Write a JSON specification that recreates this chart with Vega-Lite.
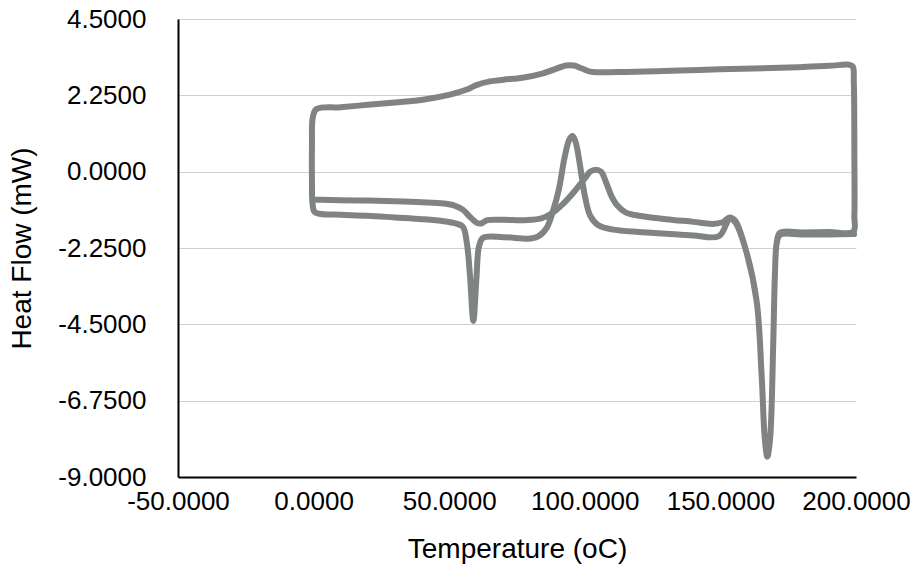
{
 "$schema": "https://vega.github.io/schema/vega-lite/v6.json",
 "width": 678, "height": 458,
 "autosize": {"type": "none"},
 "padding": {"left": 178, "top": 19, "right": 60, "bottom": 95},
 "config": {"view": {"stroke": null}, "font": "Liberation Sans"},
 "data": {"values": [
  {"i":1,"t":0.2,"h":-0.82},{"i":2,"t":10,"h":-0.84},{"i":3,"t":20,"h":-0.85},{"i":4,"t":30,"h":-0.87},{"i":5,"t":40,"h":-0.9},{"i":6,"t":48,"h":-0.94},{"i":7,"t":52,"h":-1.0},{"i":8,"t":55,"h":-1.12},{"i":9,"t":58,"h":-1.36},{"i":10,"t":60.5,"h":-1.52},{"i":11,"t":62,"h":-1.52},{"i":12,"t":64,"h":-1.43},{"i":13,"t":70,"h":-1.42},{"i":14,"t":78,"h":-1.43},{"i":15,"t":84,"h":-1.38},{"i":16,"t":88,"h":-1.22},{"i":17,"t":92,"h":-0.95},{"i":18,"t":96,"h":-0.6},{"i":19,"t":100,"h":-0.2},{"i":20,"t":102,"h":0.0},{"i":21,"t":104,"h":0.06},{"i":22,"t":106,"h":0.0},{"i":23,"t":108,"h":-0.35},{"i":24,"t":110,"h":-0.75},{"i":25,"t":112,"h":-1.0},{"i":26,"t":115,"h":-1.2},{"i":27,"t":120,"h":-1.3},{"i":28,"t":130,"h":-1.4},{"i":29,"t":140,"h":-1.48},{"i":30,"t":147,"h":-1.54},{"i":31,"t":150.5,"h":-1.5},{"i":32,"t":153.5,"h":-1.35},{"i":33,"t":155.5,"h":-1.45},{"i":34,"t":159.7,"h":-2.4},{"i":35,"t":163.4,"h":-3.84},{"i":36,"t":165.2,"h":-6.0},{"i":37,"t":166.4,"h":-7.9},{"i":38,"t":167.3,"h":-8.4},{"i":39,"t":168.3,"h":-7.9},{"i":40,"t":169.5,"h":-5.0},{"i":41,"t":170.1,"h":-3.05},{"i":42,"t":170.8,"h":-2.07},{"i":43,"t":172,"h":-1.8},{"i":44,"t":180,"h":-1.79},{"i":45,"t":190,"h":-1.78},{"i":46,"t":199,"h":-1.77},
  {"i":47,"t":199.4,"h":-1.3},{"i":48,"t":199.4,"h":0.5},{"i":49,"t":199.2,"h":2.6},{"i":50,"t":198.8,"h":3.1},{"i":51,"t":197.5,"h":3.15},
  {"i":52,"t":190,"h":3.12},{"i":53,"t":172,"h":3.06},{"i":54,"t":150,"h":3.02},{"i":55,"t":135,"h":2.98},{"i":56,"t":115,"h":2.94},{"i":57,"t":105,"h":2.93},{"i":58,"t":102,"h":2.95},{"i":59,"t":99,"h":3.04},{"i":60,"t":96,"h":3.13},{"i":61,"t":93,"h":3.13},{"i":62,"t":90,"h":3.05},{"i":63,"t":84.6,"h":2.9},{"i":64,"t":77,"h":2.77},{"i":65,"t":70,"h":2.71},{"i":66,"t":65,"h":2.66},{"i":67,"t":60,"h":2.55},{"i":68,"t":56.5,"h":2.42},{"i":69,"t":50.3,"h":2.27},{"i":70,"t":40.3,"h":2.12},{"i":71,"t":30,"h":2.04},{"i":72,"t":20,"h":1.97},{"i":73,"t":10,"h":1.9},{"i":74,"t":1,"h":1.84},
  {"i":75,"t":-0.3,"h":1.6},{"i":76,"t":-0.6,"h":0.8},{"i":77,"t":-0.6,"h":-0.3},{"i":78,"t":-0.4,"h":-0.95},{"i":79,"t":0.3,"h":-1.18},
  {"i":80,"t":2,"h":-1.24},{"i":81,"t":10,"h":-1.27},{"i":82,"t":20,"h":-1.3},{"i":83,"t":30,"h":-1.35},{"i":84,"t":40,"h":-1.4},{"i":85,"t":48,"h":-1.46},{"i":86,"t":52,"h":-1.52},{"i":87,"t":55,"h":-1.62},{"i":88,"t":56.5,"h":-2.1},{"i":89,"t":57.7,"h":-3.1},{"i":90,"t":58.9,"h":-4.4},{"i":91,"t":60.0,"h":-3.2},{"i":92,"t":61,"h":-2.2},{"i":93,"t":62.5,"h":-1.95},{"i":94,"t":70,"h":-1.93},{"i":95,"t":80,"h":-1.97},{"i":96,"t":83,"h":-1.9},{"i":97,"t":86,"h":-1.65},{"i":98,"t":88.5,"h":-1.1},{"i":99,"t":90.5,"h":-0.5},{"i":100,"t":92.5,"h":0.4},{"i":101,"t":94.3,"h":0.95},{"i":102,"t":95.5,"h":1.05},{"i":103,"t":96.7,"h":0.85},{"i":104,"t":98.2,"h":0.2},{"i":105,"t":100,"h":-0.7},{"i":106,"t":102,"h":-1.3},{"i":107,"t":105,"h":-1.58},{"i":108,"t":110,"h":-1.7},{"i":109,"t":120,"h":-1.78},{"i":110,"t":130,"h":-1.83},{"i":111,"t":140,"h":-1.88},{"i":112,"t":149.5,"h":-1.9},{"i":113,"t":153.5,"h":-1.38},{"i":114,"t":155.5,"h":-1.5},{"i":115,"t":159.7,"h":-2.4},{"i":116,"t":163.4,"h":-3.84},{"i":117,"t":165.2,"h":-6.0},{"i":118,"t":166.4,"h":-7.9},{"i":119,"t":167.3,"h":-8.4},{"i":120,"t":168.3,"h":-7.9},{"i":121,"t":169.5,"h":-5.0},{"i":122,"t":170.1,"h":-3.05},{"i":123,"t":170.8,"h":-2.1},{"i":124,"t":172,"h":-1.86},{"i":125,"t":180,"h":-1.85},{"i":126,"t":190,"h":-1.85},{"i":127,"t":199.3,"h":-1.84}
 ]},
 "mark": {"type": "line", "interpolate": "catmull-rom", "color": "#7f8482", "strokeWidth": 6, "strokeCap": "round", "strokeJoin": "round"},
 "encoding": {
  "x": {"field": "t", "type": "quantitative", "scale": {"domain": [-50, 200], "nice": false, "zero": false},
   "axis": {"values": [-50, 0, 50, 100, 150, 200], "labelExpr": "replace(format(datum.value, '.4f'), '\u2212', '-')", "grid": false, "ticks": false, "domainColor": "#000000", "domainWidth": 2, "labelFontSize": 26, "labelColor": "#000000", "labelPadding": 11, "labelFlush": false, "title": "Temperature (oC)", "titleFontSize": 28, "titleFontWeight": "normal", "titleColor": "#000000", "titlePadding": 21}},
  "y": {"field": "h", "type": "quantitative", "scale": {"domain": [-9, 4.5], "nice": false, "zero": false},
   "axis": {"values": [-9, -6.75, -4.5, -2.25, 0, 2.25, 4.5], "labelExpr": "replace(format(datum.value, '.4f'), '\u2212', '-')", "grid": true, "gridColor": "#d0d0d0", "gridWidth": 1.2, "ticks": false, "domainColor": "#000000", "domainWidth": 2, "labelFontSize": 26, "labelColor": "#000000", "labelPadding": 32, "labelFlush": false, "title": "Heat Flow (mW)", "titleFontSize": 28, "titleFontWeight": "normal", "titleColor": "#000000", "titlePadding": 21}},
  "order": {"field": "i", "type": "quantitative"}
 }
}
